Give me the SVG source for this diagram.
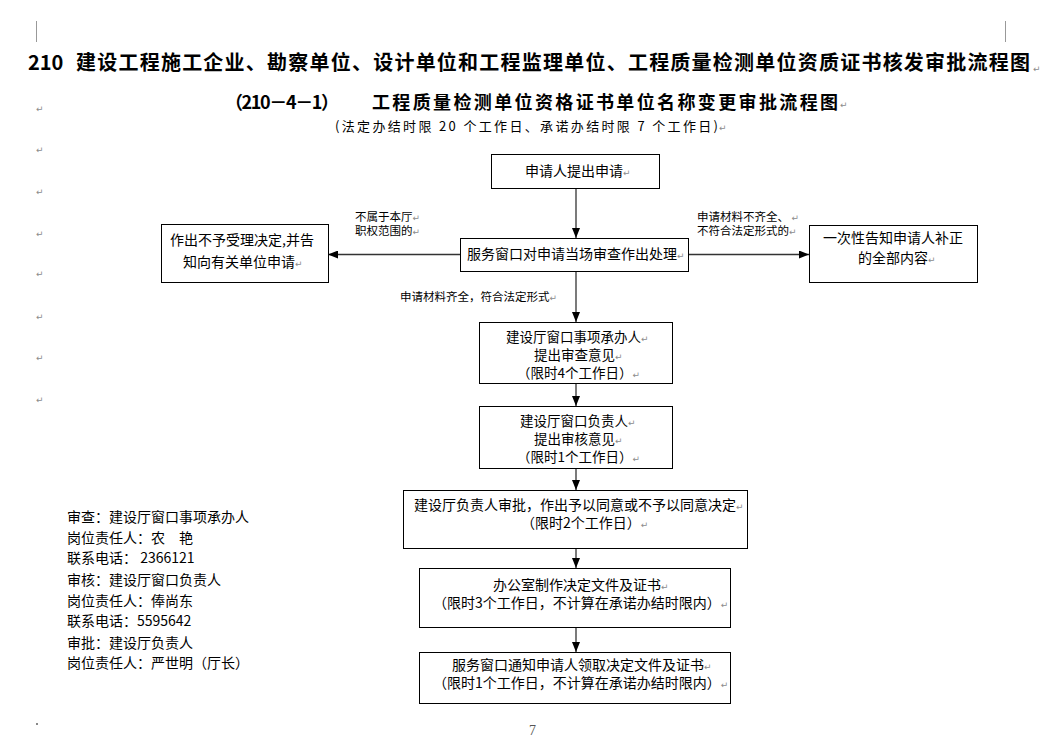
<svg xmlns="http://www.w3.org/2000/svg" width="1058" height="743" viewBox="0 0 1058 743">
<style>
.bg{fill:#fff}
.box{fill:#fff;stroke:#000;stroke-width:1}
.t{font-family:"Noto Sans CJK SC","Noto Sans",sans-serif;font-size:14px;fill:#000}
.m{font-family:"Noto Sans CJK SC","Noto Sans",sans-serif;font-size:13.5px;fill:#000}
.s{font-family:"Noto Sans CJK SC","Noto Sans",sans-serif;font-size:11.5px;fill:#000}
.h{font-family:"Noto Sans CJK SC","Noto Sans",sans-serif;font-weight:bold;fill:#000}
.pm{font-family:"DejaVu Sans",sans-serif;font-size:9px;fill:#8c8c8c;font-weight:normal}
.cn line{stroke:#333;stroke-width:1.3;marker-end:url(#ah)}
.crop{stroke:#999;stroke-width:1}
</style>
<defs>
<marker id="ah" markerUnits="userSpaceOnUse" markerWidth="10" markerHeight="8" refX="10" refY="4" orient="auto">
<path d="M0,0 L10,4 L0,8 z" fill="#000"/>
</marker>
</defs>
<rect class="bg" x="0" y="0" width="1058" height="743"/>
<line class="crop" x1="36.5" y1="21" x2="36.5" y2="42"/>
<line class="crop" x1="1005.5" y1="21" x2="1005.5" y2="42"/>

<g id="title">
<text class="h" x="28" y="70" font-size="20">210</text>
<text class="h" x="76" y="70" font-size="20" textLength="954" lengthAdjust="spacing">建设工程施工企业、勘察单位、设计单位和工程监理单位、工程质量检测单位资质证书核发审批流程图</text>
<text class="pm" x="1033" y="72">↵</text>
<text class="h" x="225" y="109" font-size="18" textLength="114" lengthAdjust="spacing">（210－4－1）</text>
<text class="h" x="372" y="109" font-size="18" textLength="466" lengthAdjust="spacing">工程质量检测单位资格证书单位名称变更审批流程图</text>
<text class="pm" x="840" y="108">↵</text>
<text class="t" x="335" y="131" style="font-size:13px" textLength="383" lengthAdjust="spacing">(法定办结时限 20 个工作日、承诺办结时限 7 个工作日)</text>
<text class="pm" x="719" y="131">↵</text>
</g>

<g id="marks">
<text class="pm" x="36" y="112">↵</text>
<text class="pm" x="36" y="153">↵</text>
<text class="pm" x="36" y="195">↵</text>
<text class="pm" x="36" y="237">↵</text>
<text class="pm" x="36" y="277">↵</text>
<text class="pm" x="36" y="320">↵</text>
<text class="pm" x="36" y="361">↵</text>
<text class="pm" x="36" y="403">↵</text>
</g>

<g class="cn" id="connectors">
<line x1="576" y1="188" x2="576" y2="238"/>
<line x1="460" y1="254.5" x2="328" y2="254.5"/>
<line x1="688" y1="254.5" x2="809" y2="254.5"/>
<line x1="576" y1="271" x2="576" y2="322"/>
<line x1="576" y1="383" x2="576" y2="406"/>
<line x1="576" y1="468" x2="576" y2="490"/>
<line x1="576" y1="548" x2="576" y2="568"/>
<line x1="576" y1="627" x2="576" y2="652"/>
</g>

<g id="lbl-left">
<text class="s" x="355" y="221">不属于本厅<tspan class="pm">↵</tspan></text>
<text class="s" x="355" y="235">职权范围的<tspan class="pm">↵</tspan></text>
</g>
<g id="lbl-right">
<text class="s" x="697" y="221">申请材料不齐全、 <tspan class="pm">↵</tspan></text>
<text class="s" x="697" y="235">不符合法定形式的<tspan class="pm">↵</tspan></text>
</g>
<g id="lbl-down">
<text class="s" x="400" y="301">申请材料齐全，符合法定形式<tspan class="pm">↵</tspan></text>
</g>

<g id="n1">
<rect class="box" x="491.5" y="154.5" width="168" height="34"/>
<text class="t" x="525" y="176">申请人提出申请<tspan class="pm">↵</tspan></text>
</g>
<g id="n2">
<rect class="box" x="460.5" y="238.5" width="228" height="33"/>
<text class="t" x="467" y="259">服务窗口对申请当场审查作出处理<tspan class="pm">↵</tspan></text>
</g>
<g id="n3">
<rect class="box" x="161.5" y="224.5" width="167" height="58"/>
<text class="t" x="170" y="245">作出不予受理决定,并告</text>
<text class="t" x="183" y="267">知向有关单位申请<tspan class="pm">↵</tspan></text>
</g>
<g id="n4">
<rect class="box" x="809.5" y="225.5" width="168" height="57"/>
<text class="t" x="823" y="243">一次性告知申请人补正</text>
<text class="t" x="858" y="263">的全部内容<tspan class="pm">↵</tspan></text>
</g>
<g id="n5">
<rect class="box" x="479.5" y="322.5" width="193" height="61"/>
<text class="m" x="506" y="342">建设厅窗口事项承办人<tspan class="pm">↵</tspan></text>
<text class="m" x="534" y="360">提出审查意见<tspan class="pm">↵</tspan></text>
<text class="m" x="517" y="378">（限时4个工作日）<tspan class="pm">↵</tspan></text>
</g>
<g id="n6">
<rect class="box" x="479.5" y="406.5" width="193" height="62"/>
<text class="m" x="520" y="426">建设厅窗口负责人<tspan class="pm">↵</tspan></text>
<text class="m" x="534" y="444">提出审核意见<tspan class="pm">↵</tspan></text>
<text class="m" x="517" y="462">（限时1个工作日）<tspan class="pm">↵</tspan></text>
</g>
<g id="n7">
<rect class="box" x="403.5" y="490.5" width="344" height="58"/>
<text class="t" x="414" y="510">建设厅负责人审批，作出予以同意或不予以同意决定<tspan class="pm">↵</tspan></text>
<text class="t" x="521" y="528">（限时2个工作日）<tspan class="pm">↵</tspan></text>
</g>
<g id="n8">
<rect class="box" x="419.5" y="568.5" width="311" height="59"/>
<text class="t" x="493" y="590">办公室制作决定文件及证书<tspan class="pm">↵</tspan></text>
<text class="t" x="433" y="608">（限时3个工作日，不计算在承诺办结时限内）<tspan class="pm">↵</tspan></text>
</g>
<g id="n9">
<rect class="box" x="419.5" y="652.5" width="311" height="51"/>
<text class="t" x="452" y="670">服务窗口通知申请人领取决定文件及证书<tspan class="pm">↵</tspan></text>
<text class="t" x="433" y="688">（限时1个工作日，不计算在承诺办结时限内）<tspan class="pm">↵</tspan></text>
</g>

<g id="contacts">
<text class="t" x="67" y="522">审查：建设厅窗口事项承办人</text>
<text class="t" x="67" y="543">岗位责任人：农　艳</text>
<text class="t" x="67" y="563">联系电话： 2366121</text>
<text class="t" x="67" y="585">审核：建设厅窗口负责人</text>
<text class="t" x="67" y="606">岗位责任人：俸尚东</text>
<text class="t" x="67" y="626">联系电话：5595642</text>
<text class="t" x="67" y="648">审批：建设厅负责人</text>
<text class="t" x="67" y="668">岗位责任人：严世明（厅长）</text>
</g>

<g id="footer">
<rect x="36" y="723" width="2" height="2" fill="#888"/>
<text x="529" y="735" font-family="Liberation Serif,serif" font-size="14" fill="#555">7</text>
</g>
</svg>
